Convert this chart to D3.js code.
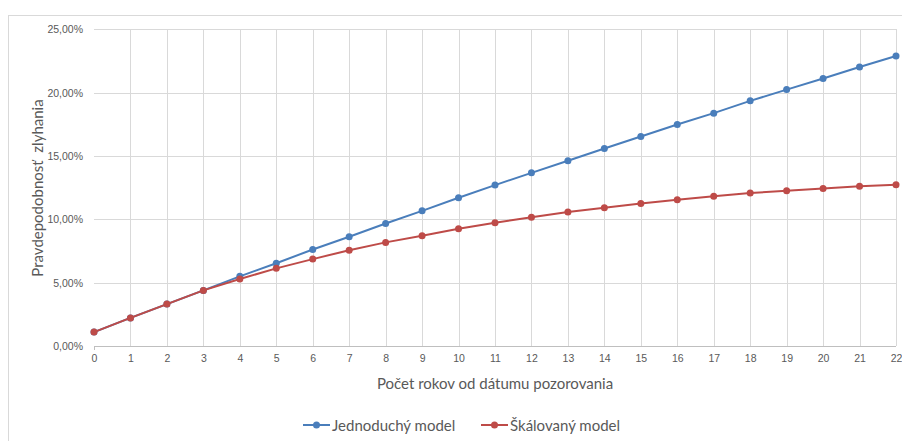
<!DOCTYPE html>
<html><head><meta charset="utf-8">
<script src="https://cdn.jsdelivr.net/npm/d3@7"></script>
<style>body{margin:0;background:#fff;} svg{display:block;font-family:Lato,"Open Sans",sans-serif;}</style>
</head><body><svg id="c" width="902" height="441"></svg>
<script>
const years = d3.range(0, 23);
const simpleModel = [1.10,2.22,3.31,4.39,5.50,6.53,7.62,8.62,9.67,10.67,11.70,12.70,13.67,14.62,15.59,16.54,17.48,18.38,19.35,20.24,21.11,22.03,22.89];
const scaledModel = [1.10,2.22,3.31,4.39,5.29,6.13,6.86,7.56,8.18,8.70,9.25,9.73,10.17,10.57,10.91,11.25,11.54,11.83,12.07,12.25,12.44,12.62,12.72];
const yTicks = [0,5,10,15,20,25];
const seriesNames = ["Jednoduchý model","Škálovaný model"];
const colors = ["#4a7ebb","#be4b48"];

const svg = d3.select("#c");
svg.append("rect").attr("x",8.5).attr("y",15.5).attr("width",1000).attr("height",1000).attr("fill","#fff").attr("stroke","#d9d9d9");

const x = d3.scaleLinear().domain([0,22]).range([94,896]);
const y = d3.scaleLinear().domain([0,25]).range([346,29.3]);

// grid
svg.append("g").selectAll("line").data(yTicks.slice(1)).join("line")
  .attr("x1",94).attr("x2",896).attr("y1",d=>Math.round(y(d))+0.5).attr("y2",d=>Math.round(y(d))+0.5)
  .attr("stroke","#d9d9d9").attr("stroke-width",1);
svg.append("g").selectAll("line").data(years.slice(1)).join("line")
  .attr("x1",d=>Math.round(x(d))+0.5).attr("x2",d=>Math.round(x(d))+0.5).attr("y1",29).attr("y2",346)
  .attr("stroke","#d9d9d9").attr("stroke-width",1);

// axes
const fmt = d => d.toFixed(2).replace(".",",")+"%";
const yAxis = svg.append("g").attr("transform","translate(94,0)")
  .call(d3.axisLeft(y).tickValues(yTicks).tickFormat(fmt).tickSize(0).tickPadding(11));
yAxis.select(".domain").remove();
yAxis.selectAll("text").attr("fill","#595959").style("font-size","10.5px");

const xAxis = svg.append("g").attr("transform","translate(0,346)")
  .call(d3.axisBottom(x).tickValues(years).tickFormat(d3.format("d")).tickSize(0).tickPadding(9));
xAxis.select(".domain").attr("stroke","#bfbfbf").attr("d","M94,0.5H896");
xAxis.selectAll("text").attr("fill","#595959").style("font-size","10.5px");
svg.append("line").attr("x1",94.5).attr("x2",94.5).attr("y1",346).attr("y2",350).attr("stroke","#bfbfbf");

// titles
svg.append("text").attr("transform","translate(43,188) rotate(-90)").attr("text-anchor","middle")
  .attr("fill","#595959").style("font-size","15px").style("white-space","pre").text("Pravdepodobnosť  zlyhania");
svg.append("text").attr("x",495).attr("y",389).attr("text-anchor","middle")
  .attr("fill","#595959").style("font-size","15px").text("Počet rokov od dátumu pozorovania");

// series
const line = d3.line().x((d,i)=>x(years[i])).y(d=>y(d));
[simpleModel, scaledModel].forEach((s,k)=>{
  svg.append("path").datum(s).attr("d",line).attr("fill","none").attr("stroke",colors[k]).attr("stroke-width",2);
  svg.append("g").selectAll("circle").data(s).join("circle")
    .attr("cx",(d,i)=>x(years[i])).attr("cy",d=>y(d)).attr("r",3.5).attr("fill",colors[k]);
});

// legend
const legX = [303, 481];
seriesNames.forEach((n,k)=>{
  const g = svg.append("g").attr("transform",`translate(${legX[k]},425)`);
  g.append("line").attr("x1",0).attr("x2",27).attr("y1",0).attr("y2",0).attr("stroke",colors[k]).attr("stroke-width",2);
  g.append("circle").attr("cx",13.5).attr("cy",0).attr("r",3.5).attr("fill",colors[k]);
  g.append("text").attr("x",29).attr("y",5.5).attr("fill","#595959").style("font-size","15px").text(n);
});
</script></body></html>
